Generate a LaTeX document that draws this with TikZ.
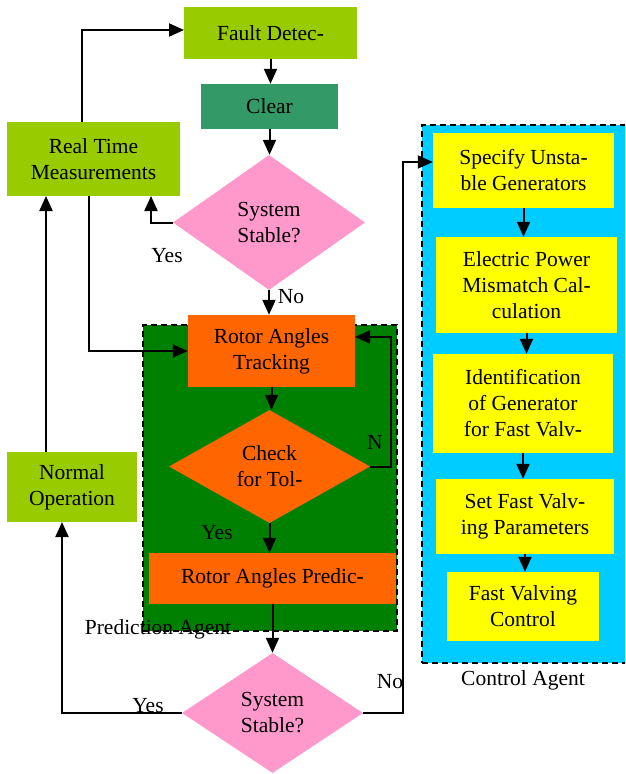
\documentclass[tikz,border=0pt]{standalone}
\usepackage{fontspec}
\setmainfont{Liberation Serif}
\usetikzlibrary{shapes.geometric,arrows.meta}
\definecolor{limeg}{HTML}{99CC00}
\definecolor{teal}{HTML}{339966}
\definecolor{pinkd}{HTML}{FF99CC}
\definecolor{darkg}{HTML}{008000}
\definecolor{orng}{HTML}{FF6600}
\definecolor{cyanb}{HTML}{00CCFF}
\definecolor{yell}{HTML}{FFFF00}
\begin{document}
\begin{tikzpicture}[x=1pt,y=-1pt,
  every node/.style={font=\fontsize{21.5}{26}\selectfont, text=black},
  box/.style={rectangle, inner sep=0pt, align=center},
  dia/.style={diamond, aspect=1.5, inner sep=0pt, align=center, fill=pinkd},
  agentbox/.style={rectangle, inner sep=0pt, draw=black, line width=1.6pt, dash pattern=on 6pt off 4pt},
  lbl/.style={inner sep=0pt, anchor=base},
  arr/.style={-{Triangle[width=13pt,length=15pt]}, line width=2pt},
  ln/.style={line width=2pt}]
\clip (0,0) rectangle (625,774);
% agent containers
\node[agentbox, fill=darkg, minimum width=254pt, minimum height=306pt] (pa) at (270,478) {};
\node[agentbox, fill=cyanb, minimum width=208pt, minimum height=538pt] (ca) at (526,394) {};
% main flow boxes
\node[box, fill=limeg, minimum width=173pt, minimum height=52pt] (fault) at (270.5,33) {Fault Detec-};
\node[box, fill=teal, minimum width=137pt, minimum height=45pt] (clear) at (269.5,106.5) {Clear};
\node[box, fill=limeg, minimum width=173pt, minimum height=74pt] (rtm) at (93.5,159) {Real Time\\Measurements};
\node[dia, minimum width=192pt, minimum height=135pt] (d1) at (269,222.5) {System\\Stable?};
\node[box, fill=orng, minimum width=167pt, minimum height=72pt] (rat) at (271.5,351) {Rotor Angles\\Tracking};
\node[dia, fill=orng, minimum width=201pt, minimum height=113pt] (chk) at (269.5,466.5) {Check\\for Tol-};
\node[box, fill=orng, minimum width=247pt, minimum height=51pt] (rap) at (272.5,578.5) {Rotor Angles Predic-};
\node[dia, minimum width=181pt, minimum height=120pt] (d2) at (272.5,713) {System\\Stable?};
\node[box, fill=limeg, minimum width=130pt, minimum height=70pt] (nop) at (72,487) {Normal\\Operation};
% control agent boxes
\node[box, fill=yell, minimum width=181pt, minimum height=75pt] (spec) at (523.5,170.5) {Specify Unsta-\\ble Generators};
\node[box, fill=yell, minimum width=181pt, minimum height=96pt] (epm) at (526.5,285) {Electric Power\\Mismatch Cal-\\culation};
\node[box, fill=yell, minimum width=180pt, minimum height=99pt] (ident) at (523,403.5) {Identification\\of Generator\\for Fast Valv-};
\node[box, fill=yell, minimum width=178pt, minimum height=75pt] (sf) at (525,516.5) {Set Fast Valv-\\ing Parameters};
\node[box, fill=yell, minimum width=152pt, minimum height=69pt] (fvc) at (523,606.5) {Fast Valving\\Control};
% helper coordinates
\coordinate (rtmtop) at (82,122);
\coordinate (fin) at (184,30);
\coordinate (yesup) at (151,196);
\coordinate (rtmdown) at (89,196);
\coordinate (notop) at (46,452);
\coordinate (rtmup) at (46,196);
\coordinate (nl1) at (391,337);
\coordinate (nl2) at (355,337);
\coordinate (noin) at (62,522);
\coordinate (c1) at (403,162);
% connectors
\draw[arr] (rtmtop) |- (fin);
\draw[arr] (fault.south) -- (fault.south |- clear.north);
\draw[arr] (clear.south) -- (clear.south |- d1.north);
\draw[arr] (d1.west) -| (yesup);
\draw[arr] (d1.south) -- (d1.south |- rat.north);
\draw[arr] (rtmdown) |- (rat.west);
\draw[arr] (notop) -- (rtmup);
\draw[arr] (rat.south) -- (rat.south |- chk.north);
\draw[arr] (chk.east) -| (nl1) -- (nl2);
\draw[arr] (chk.south) -- (chk.south |- rap.north);
\draw[arr] (rap.south) -- (rap.south |- d2.north);
\draw[arr] (d2.west) -| (noin);
\draw[arr] (d2.east) -| (c1) -- (c1 -| spec.west);
\draw[arr] (spec.south) -- (spec.south |- epm.north);
\draw[arr] (epm.south) -- (epm.south |- ident.north);
\draw[arr] (ident.south) -- (ident.south |- sf.north);
\draw[arr] (sf.south) -- (sf.south |- fvc.north);
% labels
\node[lbl] (yes1) at (167,262) {Yes};
\node[lbl] (no1) at (291,303) {No};
\node[lbl] (n1) at (375,449) {N};
\node[lbl] (yes2) at (217,539) {Yes};
\node[lbl] (yes3) at (148,712) {Yes};
\node[lbl] (no3) at (390,688) {No};
\node[lbl] (palbl) at (158,634) {Prediction Agent};
\node[lbl] (calbl) at (523,685) {Control Agent};
\end{tikzpicture}
\end{document}
